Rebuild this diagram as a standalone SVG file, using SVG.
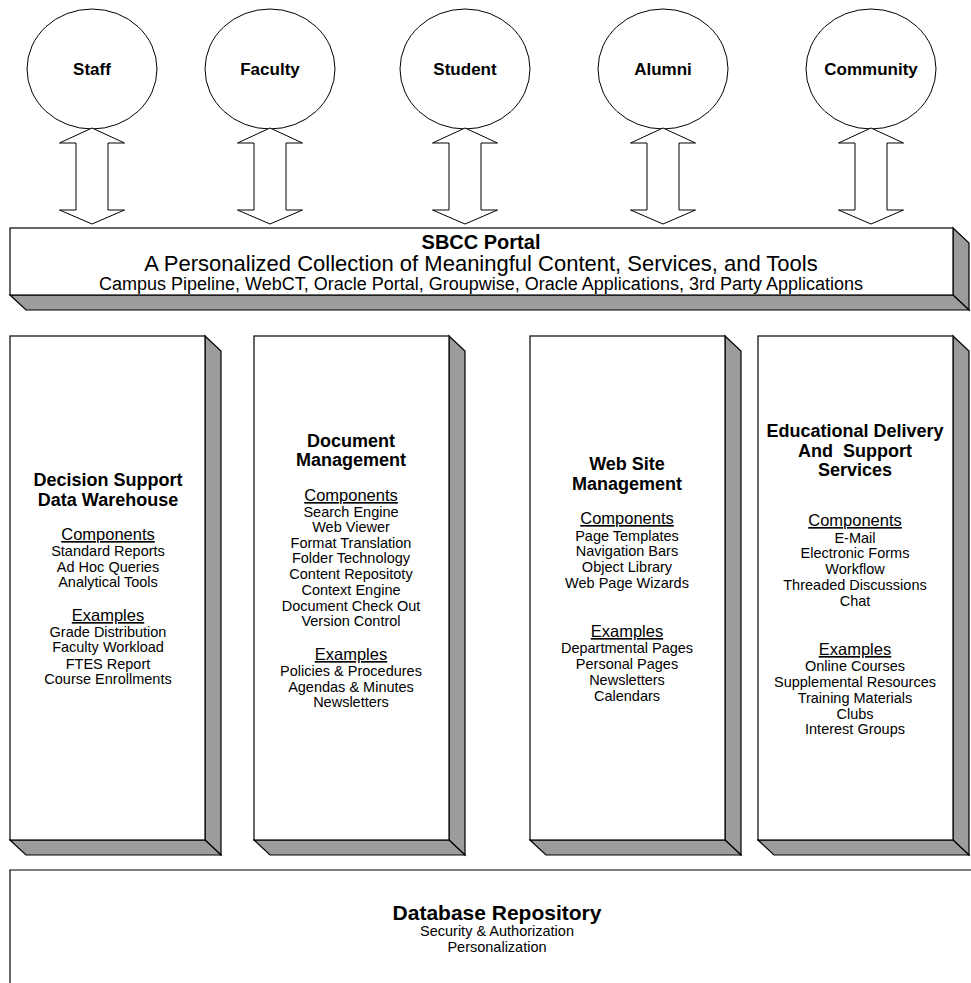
<svg xmlns="http://www.w3.org/2000/svg" width="971" height="983" viewBox="0 0 971 983">
<style>
  .ln{fill:none;stroke:#000;stroke-width:1.2}
  .face{fill:#fff;stroke:#000;stroke-width:1.2}
  .side{fill:#9c9c9c;stroke:#000;stroke-width:1.2;stroke-linejoin:miter}
  .circ{fill:#fff;stroke:#000;stroke-width:1}
  .arr{fill:#fff;stroke:#000;stroke-width:1}
  text{font-family:"Liberation Sans",Arial,sans-serif;fill:#000;text-anchor:middle}
  .lbl{font-size:17px;font-weight:bold}
  .ttl{font-size:18px;font-weight:bold}
  .hd{font-size:16.5px;text-decoration:underline}
  .it{font-size:14.5px}
</style>

<g id="staff"><ellipse class="circ" cx="92" cy="69" rx="65" ry="60"/><text class="lbl" x="92" y="75">Staff</text></g>
<g id="faculty"><ellipse class="circ" cx="270" cy="69" rx="65" ry="60"/><text class="lbl" x="270" y="75">Faculty</text></g>
<g id="student"><ellipse class="circ" cx="465" cy="69" rx="65" ry="60"/><text class="lbl" x="465" y="75">Student</text></g>
<g id="alumni"><ellipse class="circ" cx="663" cy="69" rx="65" ry="60"/><text class="lbl" x="663" y="75">Alumni</text></g>
<g id="community"><ellipse class="circ" cx="871" cy="69" rx="65" ry="60"/><text class="lbl" x="871" y="75">Community</text></g>

<g id="connectors">
  <path class="arr" d="M92,128 L124.5,143 H108 V210 H124.5 L92,224 L59.5,210 H76 V143 H59.5 Z"/>
  <path class="arr" d="M270,128 L302.5,143 H286 V210 H302.5 L270,224 L237.5,210 H254 V143 H237.5 Z"/>
  <path class="arr" d="M465,128 L497.5,143 H481 V210 H497.5 L465,224 L432.5,210 H449 V143 H432.5 Z"/>
  <path class="arr" d="M663,128 L695.5,143 H679 V210 H695.5 L663,224 L630.5,210 H647 V143 H630.5 Z"/>
  <path class="arr" d="M871,128 L903.5,143 H887 V210 H903.5 L871,224 L838.5,210 H855 V143 H838.5 Z"/>
</g>

<g id="portal">
  <polygon class="side" points="953,228 969,243 969,310 953,295"/>
  <polygon class="side" points="10,295 953,295 969,310 26,310"/>
  <rect class="face" x="10" y="228" width="943" height="67"/>
  <text x="481" y="249" style="font-size:20px;font-weight:bold">SBCC Portal</text>
  <text x="481" y="271" style="font-size:22px">A Personalized Collection of Meaningful Content, Services, and Tools</text>
  <text x="481" y="290" style="font-size:18px">Campus Pipeline, WebCT, Oracle Portal, Groupwise, Oracle Applications, 3rd Party Applications</text>
</g>

<g id="decision-support">
  <polygon class="side" points="205,336 221,351 221,855 205,840"/>
  <polygon class="side" points="10,840 205,840 221,855 26,855"/>
  <rect class="face" x="10" y="336" width="195" height="504"/>
  <text class="ttl" x="108" y="486">Decision Support</text>
  <text class="ttl" x="108" y="506">Data Warehouse</text>
  <text class="hd" x="108" y="540">Components</text>
  <text class="it" x="108" y="556">Standard Reports</text>
  <text class="it" x="108" y="572">Ad Hoc Queries</text>
  <text class="it" x="108" y="587">Analytical Tools</text>
  <text class="hd" x="108" y="621">Examples</text>
  <text class="it" x="108" y="637">Grade Distribution</text>
  <text class="it" x="108" y="652">Faculty Workload</text>
  <text class="it" x="108" y="669">FTES Report</text>
  <text class="it" x="108" y="684">Course Enrollments</text>
</g>

<g id="document-management">
  <polygon class="side" points="449,336 465,351 465,855 449,840"/>
  <polygon class="side" points="254,840 449,840 465,855 270,855"/>
  <rect class="face" x="254" y="336" width="195" height="504"/>
  <text class="ttl" x="351" y="447">Document</text>
  <text class="ttl" x="351" y="466">Management</text>
  <text class="hd" x="351" y="501">Components</text>
  <text class="it" x="351" y="517">Search Engine</text>
  <text class="it" x="351" y="532">Web Viewer</text>
  <text class="it" x="351" y="548">Format Translation</text>
  <text class="it" x="351" y="563">Folder Technology</text>
  <text class="it" x="351" y="579">Content Repositoty</text>
  <text class="it" x="351" y="595">Context Engine</text>
  <text class="it" x="351" y="611">Document Check Out</text>
  <text class="it" x="351" y="626">Version Control</text>
  <text class="hd" x="351" y="660">Examples</text>
  <text class="it" x="351" y="676">Policies &amp; Procedures</text>
  <text class="it" x="351" y="692">Agendas &amp; Minutes</text>
  <text class="it" x="351" y="707">Newsletters</text>
</g>

<g id="web-site-management">
  <polygon class="side" points="725,336 741,351 741,855 725,840"/>
  <polygon class="side" points="530,840 725,840 741,855 546,855"/>
  <rect class="face" x="530" y="336" width="195" height="504"/>
  <text class="ttl" x="627" y="470">Web Site</text>
  <text class="ttl" x="627" y="490">Management</text>
  <text class="hd" x="627" y="524">Components</text>
  <text class="it" x="627" y="541">Page Templates</text>
  <text class="it" x="627" y="556">Navigation Bars</text>
  <text class="it" x="627" y="572">Object Library</text>
  <text class="it" x="627" y="588">Web Page Wizards</text>
  <text class="hd" x="627" y="637">Examples</text>
  <text class="it" x="627" y="653">Departmental Pages</text>
  <text class="it" x="627" y="669">Personal Pages</text>
  <text class="it" x="627" y="685">Newsletters</text>
  <text class="it" x="627" y="701">Calendars</text>
</g>

<g id="educational-delivery">
  <polygon class="side" points="953,336 969,351 969,855 953,840"/>
  <polygon class="side" points="758,840 953,840 969,855 774,855"/>
  <rect class="face" x="758" y="336" width="195" height="504"/>
  <text class="ttl" x="855" y="437">Educational Delivery</text>
  <text class="ttl" x="855" y="457" style="white-space:pre">And  Support</text>
  <text class="ttl" x="855" y="476">Services</text>
  <text class="hd" x="855" y="526">Components</text>
  <text class="it" x="855" y="543">E-Mail</text>
  <text class="it" x="855" y="558">Electronic Forms</text>
  <text class="it" x="855" y="574">Workflow</text>
  <text class="it" x="855" y="590">Threaded Discussions</text>
  <text class="it" x="855" y="606">Chat</text>
  <text class="hd" x="855" y="655">Examples</text>
  <text class="it" x="855" y="671">Online Courses</text>
  <text class="it" x="855" y="687">Supplemental Resources</text>
  <text class="it" x="855" y="703">Training Materials</text>
  <text class="it" x="855" y="719">Clubs</text>
  <text class="it" x="855" y="734">Interest Groups</text>
</g>

<g id="database-repository">
  <path class="ln" d="M975,870 H10 V983"/>
  <text x="497" y="920" style="font-size:21px;font-weight:bold">Database Repository</text>
  <text class="it" x="497" y="936">Security &amp; Authorization</text>
  <text class="it" x="497" y="952">Personalization</text>
</g>
</svg>
